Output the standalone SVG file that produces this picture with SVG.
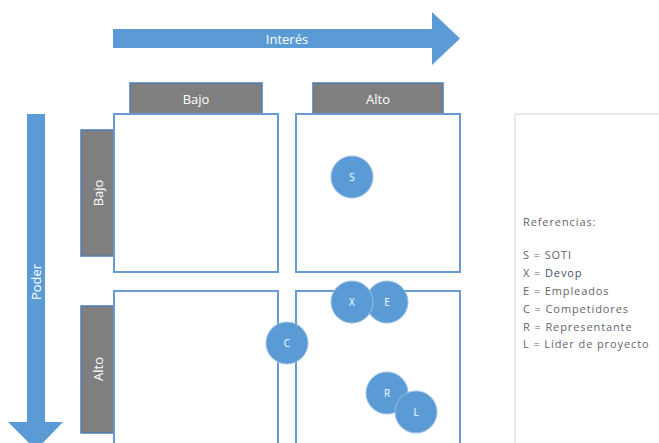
<svg xmlns="http://www.w3.org/2000/svg" width="659" height="443" viewBox="0 0 659 443">
<style>
.arrow{fill:#5b9bd5}
.hdr{fill:#7f7f7f;stroke:#4f7fb0;stroke-width:1.5}
.quad{fill:#ffffff;stroke:#6a9bd0;stroke-width:2}
.lbl{font-family:"Open Sans","Liberation Sans",sans-serif;font-size:13px;fill:#ffffff;text-anchor:middle;dominant-baseline:central}
.dot{fill:#5b9bd5;stroke:#9cc0e6;stroke-width:1}
.dl{font-family:"Open Sans","Liberation Sans",sans-serif;font-size:10px;fill:#ffffff;text-anchor:middle;dominant-baseline:central}
.ref{font-family:"Open Sans","Liberation Sans",sans-serif;font-size:11px;letter-spacing:0.9px;fill:#666666;dominant-baseline:central}
</style>
<rect width="659" height="443" fill="#ffffff"/>
<g id="axis-interes">
<polygon class="arrow" points="113,29 432,29 432,12 460,38.5 432,65 432,48 113,48"/>
<text class="lbl" x="287" y="38.5" font-size="14">Interés</text>
</g>
<g id="axis-poder">
<polygon class="arrow" points="27,114 45,114 45,422 63,422 36,450 8,422 27,422"/>
<text class="lbl" transform="translate(36,282) rotate(-90)">Poder</text>
</g>
<g id="hdr-bajo">
<rect class="hdr" x="130" y="83" width="132" height="31"/>
<text class="lbl" x="196" y="98.5">Bajo</text>
</g>
<g id="hdr-alto">
<rect class="hdr" x="313" y="83" width="130" height="31"/>
<text class="lbl" x="378" y="98.5">Alto</text>
</g>
<g id="side-bajo">
<rect class="hdr" x="81" y="130" width="33" height="126"/>
<text class="lbl" transform="translate(97.5,193) rotate(-90)">Bajo</text>
</g>
<g id="side-alto">
<rect class="hdr" x="81" y="306" width="33" height="127"/>
<text class="lbl" transform="translate(97.5,369) rotate(-90)">Alto</text>
</g>
<g id="quadrants">
<rect id="q-tl" class="quad" x="114" y="114" width="164" height="158"/>
<rect id="q-tr" class="quad" x="296" y="114" width="164" height="158"/>
<rect id="q-bl" class="quad" x="114" y="291" width="164" height="160"/>
<rect id="q-br" class="quad" x="296" y="291" width="164" height="160"/>
</g>
<g id="references">
<rect x="515" y="114" width="150" height="340" fill="#ffffff" stroke="#d4d4d4" stroke-width="1"/>
<text class="ref" x="523" y="221" fill="#7a7a7a">Referencias:</text>
<text class="ref" x="523" y="254">S = SOTI</text>
<text class="ref" x="523" y="272">X = <tspan fill="#44546a">Devop</tspan></text>
<text class="ref" x="523" y="290">E = Empleados</text>
<text class="ref" x="523" y="308">C = Competidores</text>
<text class="ref" x="523" y="326">R = Representante</text>
<text class="ref" x="523" y="343">L = Líder de proyecto</text>
</g>
<g id="node-S"><circle class="dot" cx="352" cy="177" r="21"/><text class="dl" x="352" y="177">S</text></g>
<g id="node-E"><circle class="dot" cx="387" cy="302" r="21"/><text class="dl" x="387" y="302">E</text></g>
<g id="node-X"><circle class="dot" cx="352" cy="302" r="21"/><text class="dl" x="352" y="302">X</text></g>
<g id="node-C"><circle class="dot" cx="287" cy="343" r="21"/><text class="dl" x="287" y="343">C</text></g>
<g id="node-R"><circle class="dot" cx="387" cy="393" r="21"/><text class="dl" x="387" y="393">R</text></g>
<g id="node-L"><circle class="dot" cx="416" cy="412" r="21"/><text class="dl" x="416" y="412">L</text></g>
<g id="connectors"></g>
</svg>
